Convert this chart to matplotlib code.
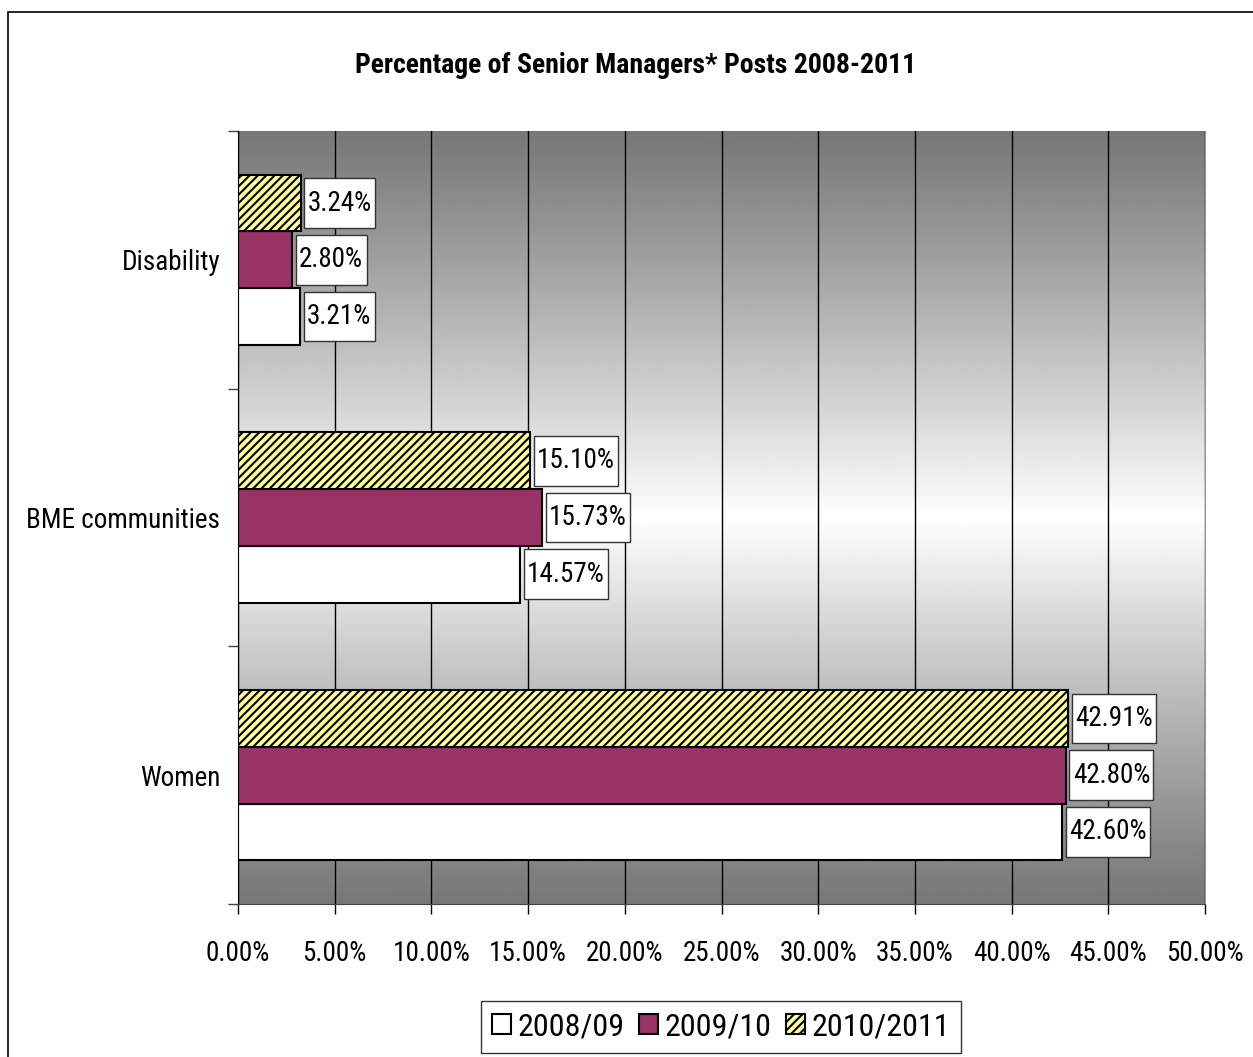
import matplotlib
matplotlib.use("Agg")
import matplotlib.pyplot as plt
from matplotlib.patches import Rectangle
from matplotlib.path import Path
import numpy as np

plt.rcParams['font.family'] = ['Liberation Sans Narrow', 'Arial Narrow', 'Roboto Condensed',
                               'Archivo Narrow', 'Liberation Sans', 'DejaVu Sans']
plt.rcParams['hatch.linewidth'] = 1.5

# data
categories = ['Women', 'BME communities', 'Disability']
years = ['2008/09', '2009/10', '2010/2011']
v_2008 = [42.60, 14.57, 3.21]
v_2009 = [42.80, 15.73, 2.80]
v_2010 = [42.91, 15.10, 3.24]
xticks = [0, 5, 10, 15, 20, 25, 30, 35, 40, 45, 50]


def label_box(x0, y0, width, height, mutation_size):
    # tall, narrow padding like the excel data-label boxes
    px = 0.12 * mutation_size
    py = 0.42 * mutation_size
    x0, x1 = x0 - px, x0 + width + px
    y0, y1 = y0 - py, y0 + height + py
    return Path([(x0, y0), (x1, y0), (x1, y1), (x0, y1), (x0, y0)], closed=True)


fig = plt.figure(figsize=(12.53, 10.57), dpi=100)
ax = fig.add_axes([0.190, 0.1447, 0.7717, 0.7314])

# vertical gradient background: dark at top and bottom, light in the middle
t = np.linspace(0, 1, 400)
g = 0.47 + 0.53 * (1 - np.abs(2 * t - 1)) ** 1.1
ax.imshow(g.reshape(-1, 1), extent=[0, 50, -0.5, 2.5], aspect='auto',
          cmap='gray', vmin=0, vmax=1, zorder=0)

y = np.arange(len(categories))
h = 0.22
series = [
    (v_2008, -h, dict(color='white')),
    (v_2009, 0, dict(color='#993366')),
    (v_2010, h, dict(color='#ffff99', hatch='////')),
]
handles = []
for (vals, off, style), lab in zip(series, years):
    bars = ax.barh(y + off, vals, height=h, edgecolor='black', linewidth=1.5,
                   zorder=2, label=lab, **style)
    handles.append(bars)
    for yy, v in zip(y + off, vals):
        ax.annotate(f'{v:.2f}%', (v, yy), xytext=(5, 0), textcoords='offset points',
                    ha='left', va='center', fontsize=19.5, zorder=3,
                    bbox=dict(boxstyle=label_box, fc='white', ec='#333333', lw=1))

ax.set_xlim(0, 50)
ax.set_ylim(-0.5, 2.5)
ax.set_xticks(xticks)
ax.set_xticklabels([f'{x:.2f}%' for x in xticks], fontsize=19.5)
ax.tick_params(axis='x', length=7, width=1, pad=19, color='black')
ax.set_yticks([-0.5, 0.5, 1.5, 2.5])
ax.set_yticklabels([])
ax.set_yticks(y, minor=True)
ax.set_yticklabels(categories, minor=True, fontsize=19.5)
ax.tick_params(axis='y', which='major', length=7, width=1, color='#444444')
ax.tick_params(axis='y', which='minor', length=0, pad=13)
ax.grid(axis='x', color='black', lw=1)
ax.set_axisbelow(True)
ax.spines['top'].set_visible(False)
ax.spines['right'].set_color('#999999')
ax.spines['bottom'].set_color('#444444')
ax.spines['left'].set_color('black')

fig.text(0.5076, 0.9385, 'Percentage of Senior Managers* Posts 2008-2011',
         ha='center', va='center', fontsize=20, fontweight='bold')

leg = fig.legend(handles=handles, labels=years, loc='center', bbox_to_anchor=(0.5755, 0.0285),
                 ncol=3, fontsize=23, frameon=True, fancybox=False, edgecolor='black',
                 handlelength=0.6, handleheight=0.6, handletextpad=0.2, columnspacing=0.45,
                 borderpad=0.35, borderaxespad=0)
leg.get_frame().set_linewidth(1)

# outer chart border
fig.patches.append(Rectangle((0.0064, -0.05), 1.2, 1.0386, transform=fig.transFigure,
                             fill=False, ec='black', lw=1.2))

fig.savefig('out.png', dpi=100)
